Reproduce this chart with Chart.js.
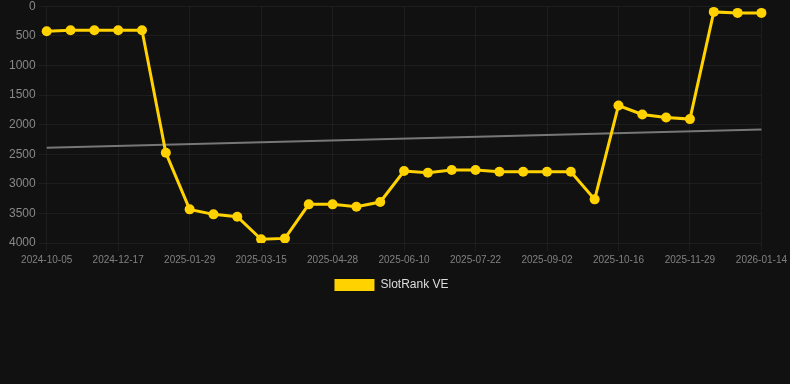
<!DOCTYPE html>
<html>
<head>
<meta charset="utf-8">
<script src="https://cdn.jsdelivr.net/npm/chart.js@4/dist/chart.umd.min.js"></script>
<style>
  html, body { margin: 0; padding: 0; background: #111111; overflow: hidden; }
  #wrap { width: 790px; height: 305px; position: relative; margin-top: -4px; }
</style>
</head>
<body>
<div id="wrap"><canvas id="rankChart"></canvas></div>
<script>
// dates of the rank samples
const dates = [
  '2024-10-05', '2024-10-29', '2024-11-22', '2024-12-17', '2024-12-31', '2025-01-14',
  '2025-01-29', '2025-02-13', '2025-02-28', '2025-03-15', '2025-03-29', '2025-04-13',
  '2025-04-28', '2025-05-12', '2025-05-26', '2025-06-10', '2025-06-24', '2025-07-08',
  '2025-07-22', '2025-08-05', '2025-08-19', '2025-09-02', '2025-09-16', '2025-10-01',
  '2025-10-16', '2025-10-30', '2025-11-14', '2025-11-29', '2025-12-14', '2025-12-29',
  '2026-01-14'
];

// SlotRank VE values (lower is better, axis reversed)
const rankValues = [
  422, 405, 405, 405, 405, 2476,
  3432, 3516, 3556, 3938, 3922, 3347,
  3347, 3387, 3308, 2785, 2813, 2768,
  2768, 2796, 2796, 2796, 2796, 3263,
  1677, 1828, 1879, 1907, 96, 113,
  113
];

// trend line end points
const trendStart = 2391;
const trendEnd = 2082;

const yTicks = [0, 500, 1000, 1500, 2000, 2500, 3000, 3500, 4000];

const trendValues = dates.map((d, i) => {
  if (i === 0) return trendStart;
  if (i === dates.length - 1) return trendEnd;
  return null;
});

const ctx = document.getElementById('rankChart').getContext('2d');
new Chart(ctx, {
  type: 'line',
  data: {
    labels: dates,
    datasets: [
      {
        label: 'SlotRank VE',
        data: rankValues,
        borderColor: '#ffd200',
        backgroundColor: '#ffd200',
        borderWidth: 3,
        pointRadius: 5,
        pointHoverRadius: 6,
        pointBackgroundColor: '#ffd200',
        pointBorderWidth: 0,
        tension: 0,
      },
      {
        label: 'trend',
        data: trendValues,
        borderColor: '#777777',
        borderWidth: 2,
        pointRadius: 0,
        spanGaps: true,
        fill: false,
      },
    ],
  },
  options: {
    responsive: true,
    maintainAspectRatio: false,
    animation: false,
    layout: { padding: { left: 6, right: 13 } },
    scales: {
      x: {
        grid: { color: 'rgba(255,255,255,0.05)' },
        border: { display: false },
        ticks: {
          color: '#808080',
          font: { family: 'Liberation Sans, Arial', size: 10 },
          maxRotation: 0,
          autoSkip: true,
          maxTicksLimit: 11,
        },
      },
      y: {
        reverse: true,
        min: 0,
        max: 4000,
        grid: { color: 'rgba(255,255,255,0.05)' },
        border: { display: false },
        afterBuildTicks: axis => {
          axis.ticks = yTicks.map(v => ({ value: v }));
        },
        ticks: {
          color: '#888888',
          font: { family: 'Liberation Sans, Arial', size: 12 },
          callback: value => String(value),
        },
      },
    },
    plugins: {
      legend: {
        position: 'bottom',
        labels: {
          color: '#dddddd',
          font: { family: 'Liberation Sans, Arial', size: 12 },
          generateLabels: chart => {
            const items = Chart.defaults.plugins.legend.labels.generateLabels(chart);
            return items
              .filter(item => item.text !== 'trend')
              .map(item => Object.assign(item, { lineWidth: 0 }));
          },
        },
      },
      tooltip: { enabled: false },
    },
  },
});
</script>
</body>
</html>
